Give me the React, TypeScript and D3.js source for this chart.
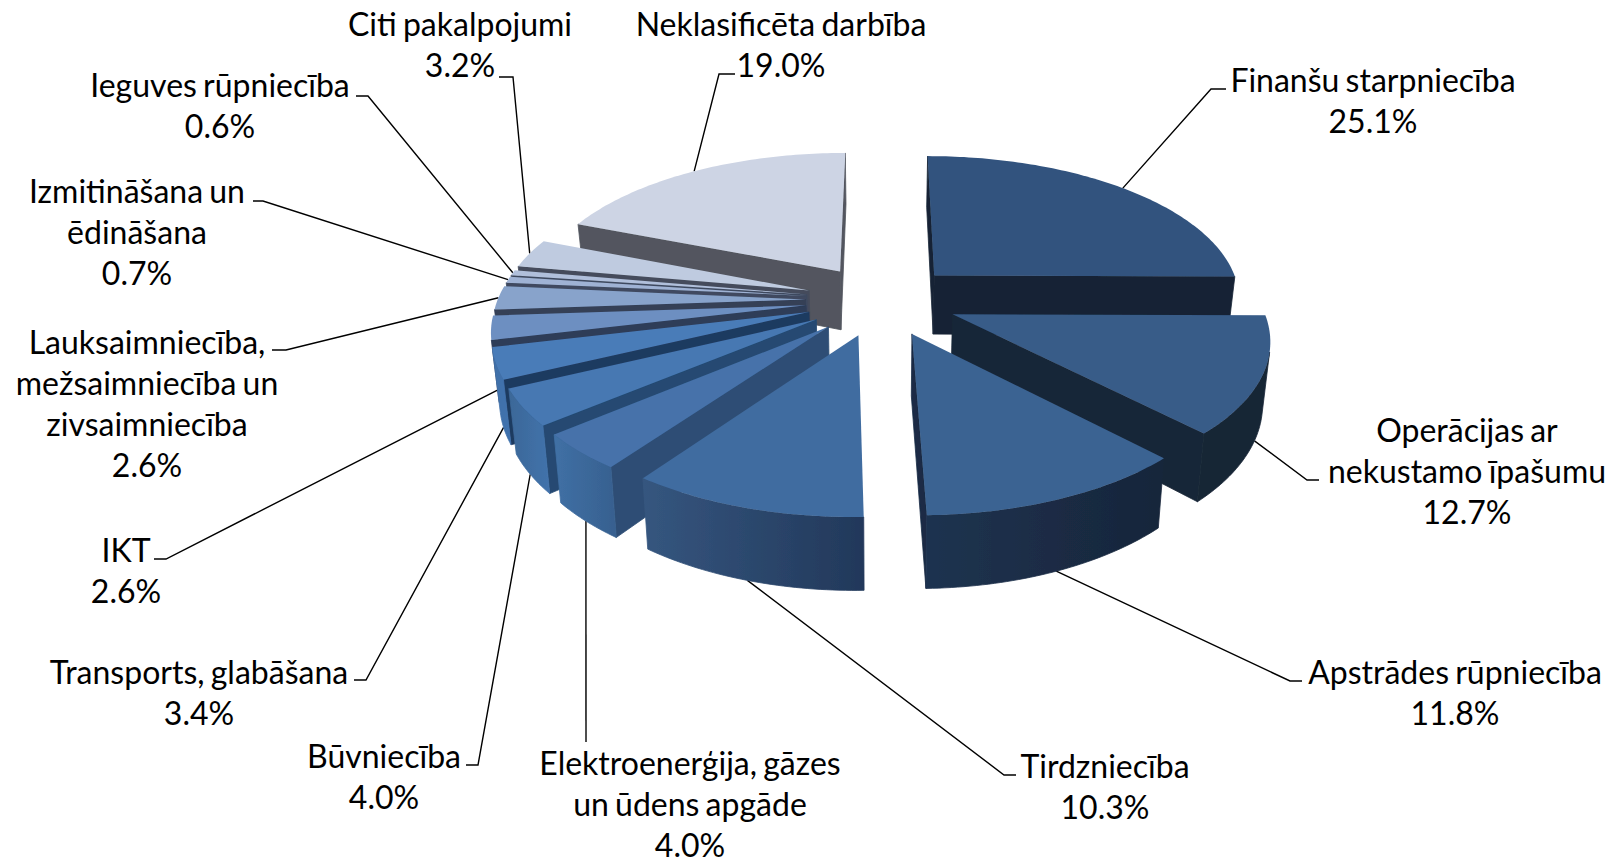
import React from 'react';
import * as d3 from 'd3';

type Pt = [number, number];

const categories = [
  ['Finanšu starpniecība'],
  ['Operācijas ar', 'nekustamo īpašumu'],
  ['Apstrādes rūpniecība'],
  ['Tirdzniecība'],
  ['Elektroenerģija, gāzes', 'un ūdens apgāde'],
  ['Būvniecība'],
  ['Transports, glabāšana'],
  ['IKT'],
  ['Lauksaimniecība,', 'mežsaimniecība un', 'zivsaimniecība'],
  ['Izmitināšana un', 'ēdināšana'],
  ['Ieguves rūpniecība'],
  ['Citi pakalpojumi'],
  ['Neklasificēta darbība'],
];
const values = [25.1, 12.7, 11.8, 10.3, 4.0, 4.0, 3.4, 2.6, 2.6, 0.7, 0.6, 3.2, 19.0];

const topColors = ['#30527e', '#375b88', '#3b6392', '#406ca0', '#4672aa', '#4678b2', '#4a7cb8', '#6d8fc1', '#88a3cb', '#9fb2d4', '#b0bfdb', '#bfcbe0', '#cdd4e4'];
const edgeColors = ['#152335', '#182637', '#1a2c45', '#2a4567', '#2e4e75', '#254a72', '#1f3a60', '#2d3c58', '#343f57', '#3f4a60', '#3f4a60', '#454c5c', '#52555e'];
const rimLeft = ['#152335', '#172536', '#1e3350', '#35567f', '#4070a5', '#3b6898', '#4170a8', '#5f84bb', '#7a97c4', '#8fa6cc', '#a0b2d4', '#aebcd8', '#bcc5da'];
const rimRight = ['#152335', '#172536', '#17253a', '#22385a', '#37608f', '#4272ab', '#3f72ae', '#6488bd', '#7f9bc6', '#94aacd', '#a4b5d6', '#b2c0da', '#c0c9dd'];

// label placement: centre x, first line centre y, then the elbow of the leader
const labelX = [1373, 1467, 1455, 1105, 690, 384, 199, 126, 147, 137, 220, 460, 781];
const labelY = [81, 431, 673, 767, 764, 757, 673, 551, 343, 192, 86, 25, 25];
const elbows: Pt[][] = [
  [[1211, 89], [1226, 89]],
  [[1307, 480], [1319, 480]],
  [[1290, 681], [1302, 681]],
  [[1004, 775], [1016, 775]],
  [[586, 742]],
  [[478, 765], [466, 765]],
  [[366, 680], [354, 680]],
  [[166, 559], [154, 559]],
  [[286, 350], [272, 350]],
  [[263, 201], [253, 201]],
  [[368, 96], [356, 96]],
  [[513, 77], [499, 77]],
  [[719, 74], [735, 74]],
];

const width = 1623;
const height = 864;
const cx = 881.6;
const cy = 300;
const scaleX = 308;
const scaleY = 143.7;
const persp = 0.147;
const explode = 0.247;
const depth = 60;
const taper = 0.98;
const lineGap = 41;
const fontSize = 32;

function project(X: number, Y: number, bottom: boolean): Pt {
  const w = 1 - persp * Y;
  const x = (scaleX * X) / w;
  return [cx + (bottom ? x * taper : x), cy + (scaleY * Y) / w + (bottom ? depth / w : 0)];
}

const linePath = d3.line<Pt>();
const closed = (pts: Pt[]) => linePath(pts) + 'Z';

const pie = d3.pie<number>().sort(null).value((d) => d);

function buildSlice(d: d3.PieArcDatum<number>) {
  const mid = (d.startAngle + d.endAngle) / 2;
  const ox = explode * Math.sin(mid);
  const oy = -explode * Math.cos(mid);
  const at = (r: number, t: number, bottom: boolean) =>
    project(ox + r * Math.sin(t), oy - r * Math.cos(t), bottom);

  const steps = Math.max(3, Math.ceil(((d.endAngle - d.startAngle) * 180) / Math.PI));
  const angles = d3.range(steps + 1).map((i) => d.startAngle + ((d.endAngle - d.startAngle) * i) / steps);
  const topArc = angles.map((t) => at(1, t, false));
  const botArc = angles.map((t) => at(1, t, true));
  const apexTop = at(0, 0, false);
  const apexBot = at(0, 0, true);

  // a wall faces us when its ring runs this way round on screen
  const faces = (a: Pt, b: Pt, c: Pt, e: Pt) => d3.polygonArea([a, b, c, e]) > 0;

  const walls: Pt[][] = [];
  if (faces(apexTop, topArc[0], botArc[0], apexBot)) walls.push([apexTop, topArc[0], botArc[0], apexBot]);
  const n = steps;
  if (faces(topArc[n], apexTop, apexBot, botArc[n])) walls.push([topArc[n], apexTop, apexBot, botArc[n]]);

  const seen = d3.range(n).filter((i) => faces(topArc[i], topArc[i + 1], botArc[i + 1], botArc[i]));
  let rim: Pt[] | null = null;
  if (seen.length) {
    const i0 = seen[0];
    const i1 = seen[seen.length - 1] + 1;
    rim = [...topArc.slice(i0, i1 + 1), ...botArc.slice(i0, i1 + 1).reverse()];
  }

  const midY = oy - Math.cos(mid);
  const anchor = at(1, mid, midY > 0.05);
  return { top: [apexTop, ...topArc] as Pt[], walls, rim, anchor, midY };
}

export default function App() {
  const slices = pie(values).map((d, i) => ({ i, ...buildSlice(d) }));
  const order = d3.sort(slices, (s) => s.midY);

  return (
    <svg
      width={width}
      height={height}
      viewBox={`0 0 ${width} ${height}`}
      style={{ position: 'absolute', left: 0, top: 0, display: 'block' }}
    >
      <defs>
        {slices.map((s) => {
          if (!s.rim) return null;
          const xs = d3.extent(s.rim, (p) => p[0]) as [number, number];
          return (
            <linearGradient key={s.i} id={`rim${s.i}`} gradientUnits="userSpaceOnUse" x1={xs[0]} x2={xs[1]} y1={0} y2={0}>
              <stop offset="0" stopColor={rimLeft[s.i]} />
              <stop offset="1" stopColor={rimRight[s.i]} />
            </linearGradient>
          );
        })}
        <filter id="soft" x="-5%" y="-5%" width="110%" height="110%">
          <feGaussianBlur stdDeviation="0.6" />
        </filter>
      </defs>
      <rect width={width} height={height} fill="#fff" />

      {slices.map((s) => (
        <path
          key={s.i}
          d={linePath([s.anchor, ...elbows[s.i]]) as string}
          fill="none"
          stroke="#000"
          strokeWidth={1.4}
        />
      ))}

      <g filter="url(#soft)">
        {order.map((s) => (
          <g key={s.i}>
            {s.walls.map((w, j) => (
              <path key={j} d={closed(w)} fill={edgeColors[s.i]} stroke={edgeColors[s.i]} strokeWidth={0.8} />
            ))}
            {s.rim && <path d={closed(s.rim)} fill={`url(#rim${s.i})`} stroke={`url(#rim${s.i})`} strokeWidth={0.8} />}
            <path d={closed(s.top)} fill={topColors[s.i]} />
          </g>
        ))}
      </g>

      <g fontFamily="Lato" fontSize={fontSize} fill="#000" textAnchor="middle" wordSpacing={-2}>
        {categories.map((lines, i) =>
          [...lines, `${values[i].toFixed(1)}%`].map((t, j) => (
            <text key={j} x={labelX[i]} y={labelY[i] + j * lineGap} dy="0.35em">
              {t}
            </text>
          ))
        )}
      </g>
    </svg>
  );
}
